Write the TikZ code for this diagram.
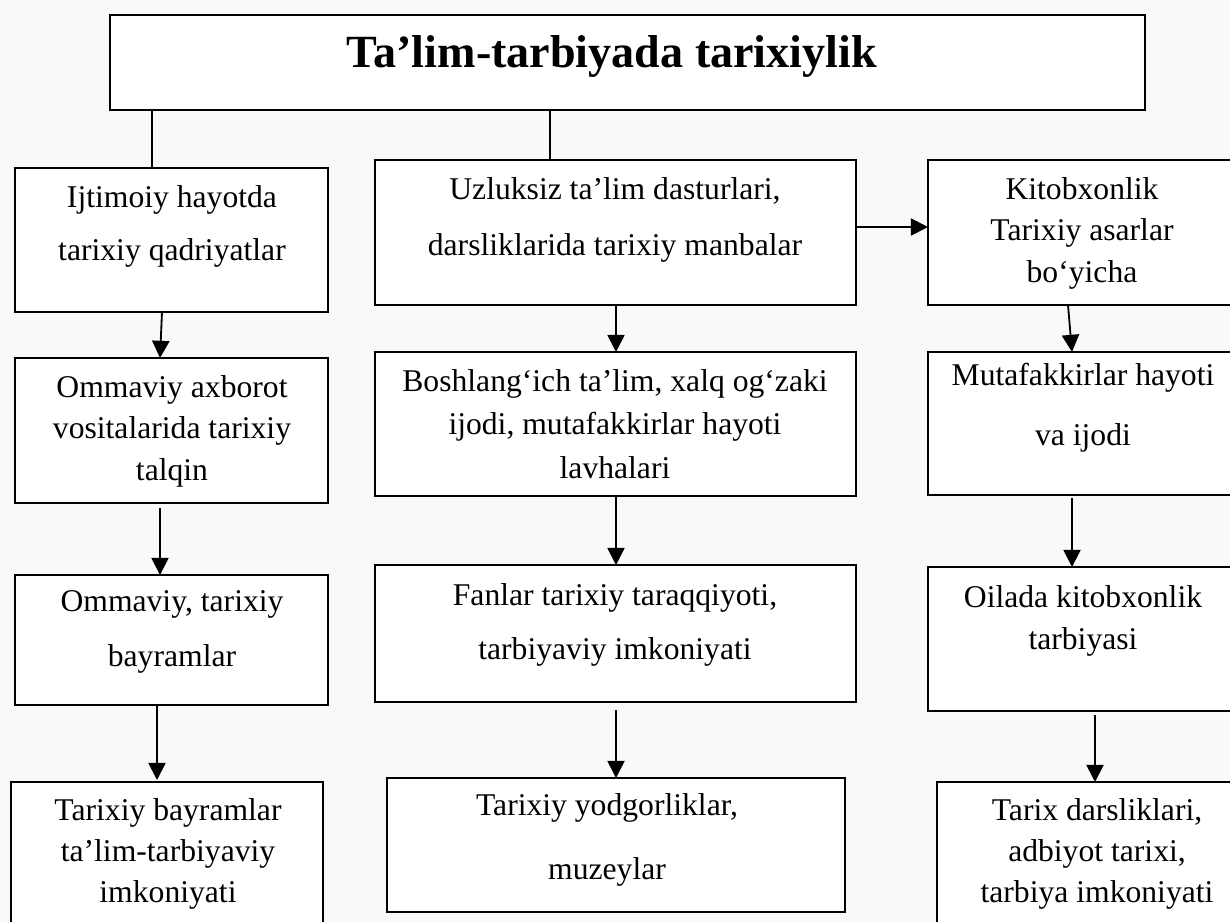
\documentclass[tikz,border=0pt]{standalone}
\usepackage{fontspec}
\setmainfont{Liberation Serif}
\usetikzlibrary{arrows.meta,calc}
\definecolor{bgc}{HTML}{F8F9FB}
\newcommand\mybox[5]{\node[box,minimum width={(#4-#2)*0.025cm},minimum height={(#5-#3)*0.025cm}] (#1) at (#2,#3) {};}
\begin{document}
\begin{tikzpicture}[x=0.025cm,y=-0.025cm,
  box/.style={draw=black,line width=1.3pt,fill=white,anchor=north west,inner sep=0pt,outer sep=0pt},
  txt/.style={align=center,inner sep=0pt,font=\fontsize{22.5}{#1}\selectfont},
  ttl/.style={inner sep=0pt,font=\fontsize{32.8}{36}\selectfont\bfseries},
  arr/.style={line width=1.3pt,-{Triangle[width=0.43cm,length=0.43cm]}},
  ln/.style={line width=1.3pt}]
\useasboundingbox (0,0) rectangle (1230,921);
\clip (0,0) rectangle (1230,921);
\fill[bgc] (0,0) rectangle (1230,921);
% boxes
\mybox{T}{110}{15}{1145}{110}
\mybox{L1}{15}{168}{328}{312}
\mybox{L2}{15}{358}{328}{503}
\mybox{L3}{15}{575}{328}{705}
\mybox{L4}{11}{782}{323}{940}
\mybox{M1}{375}{160}{856}{305}
\mybox{M2}{375}{352}{856}{496}
\mybox{M3}{375}{565}{856}{702}
\mybox{M4}{387}{778}{845}{912}
\mybox{R1}{928}{160}{1240}{305}
\mybox{R2}{928}{352}{1240}{495}
\mybox{R3}{928}{567}{1240}{711}
\mybox{R4}{937}{782}{1240}{940}
% texts
\node[ttl] (Tt) at (612,56) {Ta’lim-tarbiyada tarixiylik};
\node[txt=37.7pt] (L1t) at (172,226) {Ijtimoiy hayotda\\tarixiy qadriyatlar};
\node[txt=29.5pt] (L2t) at (172,431) {Ommaviy axborot\\vositalarida tarixiy\\talqin};
\node[txt=39pt] (L3t) at (172,632) {Ommaviy, tarixiy\\bayramlar};
\node[txt=29.2pt] (L4t) at (168,854) {Tarixiy bayramlar\\ta’lim-tarbiyaviy\\imkoniyati};
\node[txt=39.8pt] (M1t) at (615,220) {Uzluksiz ta’lim dasturlari,\\darsliklarida tarixiy manbalar};
\node[txt=31pt] (M2t) at (615,424) {Boshlang‘ich ta’lim, xalq og‘zaki\\ijodi, mutafakkirlar hayoti\\lavhalari};
\node[txt=39pt] (M3t) at (615,625) {Fanlar tarixiy taraqqiyoti,\\tarbiyaviy imkoniyati};
\node[txt=46pt] (M4t) at (607,840) {Tarixiy yodgorliklar,\\muzeylar};
\node[txt=29.5pt] (R1t) at (1082,233) {Kitobxonlik\\Tarixiy asarlar\\bo‘yicha};
\node[txt=42.7pt] (R2t) at (1083,408) {Mutafakkirlar hayoti\\va ijodi};
\node[txt=30pt] (R3t) at (1083,621) {Oilada kitobxonlik\\tarbiyasi};
\node[txt=29.2pt] (R4t) at (1097,854) {Tarix darsliklari,\\adbiyot tarixi,\\tarbiya imkoniyati};
% connectors
\draw[ln] ($(T.south west)+(42,0)$) -- ($(L1.north west)+(137,0)$);
\draw[ln] ($(T.south west)+(440,0)$) -- ($(M1.north west)+(175,0)$);
\draw[arr] ($(M1.north east)+(0,67)$) -- ($(R1.north west)+(0,67)$);
\draw[arr] ($(L1.south west)+(147,0)$) -- ($(L2.north west)+(145,0)$);
\draw[arr] ($(L2.south west)+(145,5)$) -- ($(L3.north west)+(145,0)$);
\draw[arr] ($(L3.south west)+(142,0)$) -- ($(L4.north west)+(146,-2)$);
\draw[arr] ($(M1.south west)+(241,0)$) -- ($(M2.north west)+(241,0)$);
\draw[arr] ($(M2.south west)+(241,0)$) -- ($(M3.north west)+(241,0)$);
\draw[arr] ($(M3.south west)+(241,8)$) -- ($(M4.north west)+(229,0)$);
\draw[arr] ($(R1.south west)+(140,0)$) -- ($(R2.north west)+(144,0)$);
\draw[arr] ($(R2.south west)+(144,3)$) -- ($(R3.north west)+(144,0)$);
\draw[arr] ($(R3.south west)+(167,4)$) -- ($(R4.north west)+(158,0)$);
\end{tikzpicture}
\end{document}
